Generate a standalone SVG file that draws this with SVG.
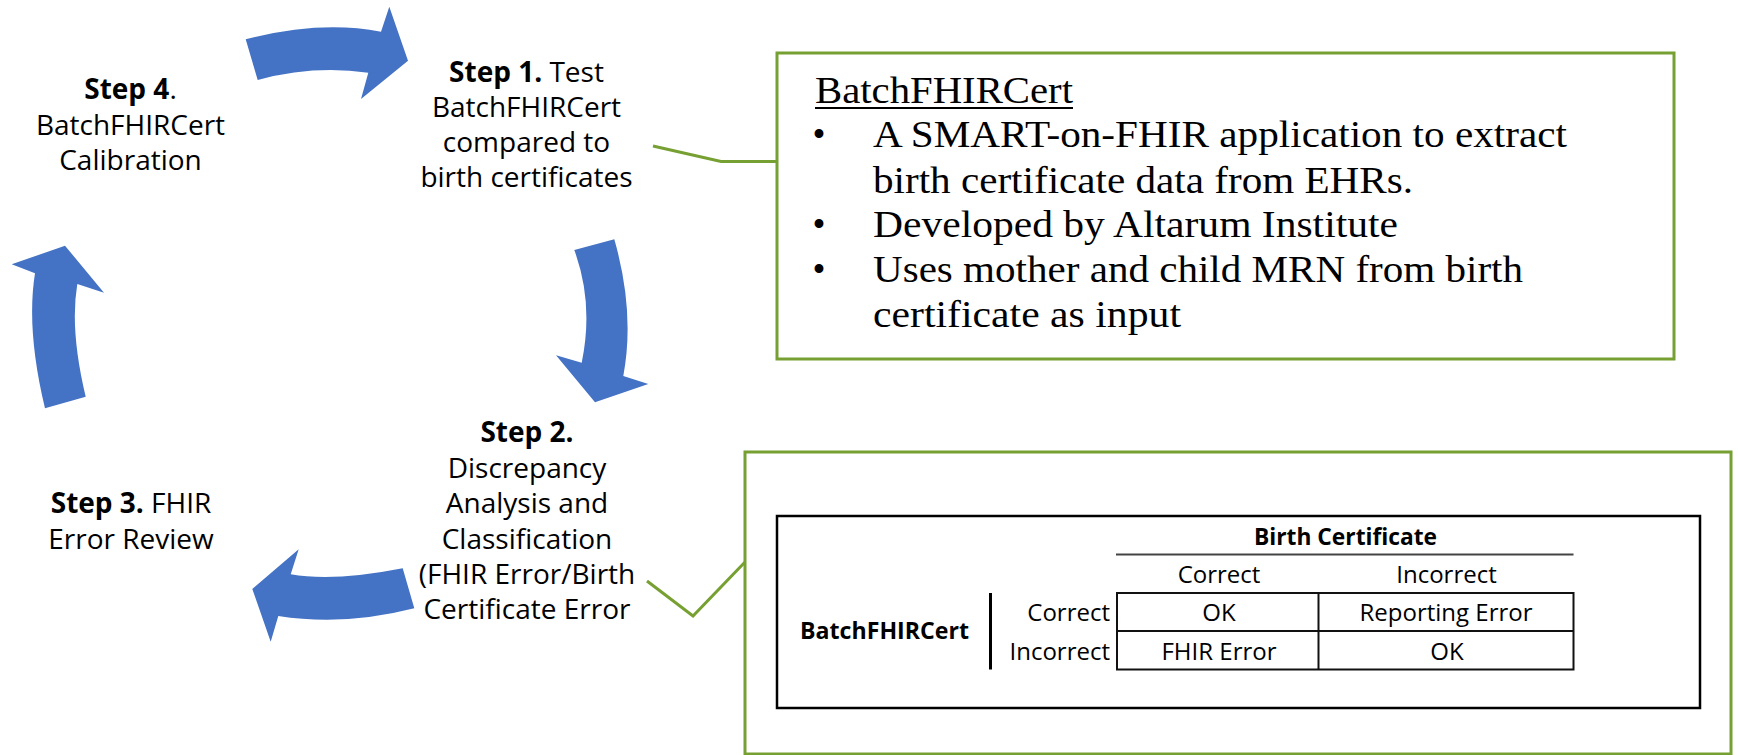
<svg xmlns="http://www.w3.org/2000/svg" width="1738" height="755" viewBox="0 0 1738 755">
<style>
.step{font-family:"Open Sans","Liberation Sans",sans-serif;font-size:28px;fill:#000;text-anchor:middle}
.b{font-weight:bold}
.arrow{fill:#4472C4}
.gbox{fill:#fff;stroke:#77A033;stroke-width:3}
.conn{fill:none;stroke:#77A033;stroke-width:3}
.ser{font-family:"Liberation Serif","Times New Roman",serif;font-size:37px;fill:#000}
.tb{font-family:"Open Sans","Liberation Sans",sans-serif;font-size:24px;fill:#000}
.mid{text-anchor:middle}
.end{text-anchor:end}
.grid{stroke:#111;stroke-width:2;fill:none}
</style>
<rect width="1738" height="755" fill="#fff"/>
<g id="cycle-arrows">
<path class="arrow" d="M245.7,39.3 Q320,20 381,31.7 L389.3,6.7 L408,60.7 L361,99 L368.3,72.7 Q313,65 257.7,80 Z"/>
<path class="arrow" d="M614.3,239.3 Q635.2,312.4 623.3,376 L648.3,384 L595,402.3 L556,355.3 L581.7,362.7 Q594,303.6 574.3,250 Z"/>
<path class="arrow" d="M402.7,568.3 Q333,582 290.7,574.3 L298.7,549.3 L252.3,589 L270.7,641.7 L278.3,616 Q343.6,626.4 414.3,608.3 Z"/>
<path class="arrow" d="M45,408.3 Q26,329.2 35,273.3 L11.7,264.3 L65,245.7 L104,292.7 L77.3,284 Q69.6,329.6 85.7,396.7 Z"/>
</g>
<g id="step4">
<text class="step" x="130.5" y="99"><tspan class="b">Step 4</tspan>.</text>
<text class="step" x="130.5" y="135">BatchFHIRCert</text>
<text class="step" x="130.5" y="169.5">Calibration</text>
</g>
<g id="step1">
<text class="step" x="526.5" y="82"><tspan class="b">Step 1.</tspan> Test</text>
<text class="step" x="526.5" y="117">BatchFHIRCert</text>
<text class="step" x="526.5" y="152">compared to</text>
<text class="step" x="526.5" y="187">birth certificates</text>
</g>
<g id="step2">
<text class="step b" x="527" y="442">Step 2.</text>
<text class="step" x="527" y="478">Discrepancy</text>
<text class="step" x="527" y="513">Analysis and</text>
<text class="step" x="527" y="548.5">Classification</text>
<text class="step" x="527" y="584">(FHIR Error/Birth</text>
<text class="step" x="527" y="618.5">Certificate Error</text>
</g>
<g id="step3">
<text class="step" x="131" y="513"><tspan class="b">Step 3.</tspan> FHIR</text>
<text class="step" x="131" y="548.5">Error Review</text>
</g>
<g id="connectors">
<polyline class="conn" points="653,146 721,161.5 777,161.5"/>
<polyline class="conn" points="647,581 693,616 746,561"/>
</g>
<g id="info-box">
<rect class="gbox" x="777" y="53" width="897" height="306"/>
<text class="ser" x="815" y="102.5" textLength="258" lengthAdjust="spacingAndGlyphs">BatchFHIRCert</text>
<line x1="815" y1="108" x2="1073" y2="108" stroke="#000" stroke-width="2"/>
<text class="ser mid" x="819" y="146.5">•</text>
<text class="ser" x="873" y="146.5" textLength="694" lengthAdjust="spacingAndGlyphs">A SMART-on-FHIR application to extract</text>
<text class="ser" x="873" y="192.5" textLength="540" lengthAdjust="spacingAndGlyphs">birth certificate data from EHRs.</text>
<text class="ser mid" x="819" y="236.5">•</text>
<text class="ser" x="873" y="236.5" textLength="525" lengthAdjust="spacingAndGlyphs">Developed by Altarum Institute</text>
<text class="ser mid" x="819" y="282">•</text>
<text class="ser" x="873" y="282" textLength="650" lengthAdjust="spacingAndGlyphs">Uses mother and child MRN from birth</text>
<text class="ser" x="873" y="327" textLength="308" lengthAdjust="spacingAndGlyphs">certificate as input</text>
</g>
<g id="table-box">
<rect class="gbox" x="745" y="452" width="986" height="302"/>
<rect x="777" y="516" width="923" height="192" fill="#fff" stroke="#000" stroke-width="2.5"/>
<text class="tb b" x="800" y="638.5" textLength="169" lengthAdjust="spacingAndGlyphs">BatchFHIRCert</text>
<line x1="990.5" y1="593" x2="990.5" y2="669.5" stroke="#000" stroke-width="3"/>
<text class="tb end" x="1110" y="621">Correct</text>
<text class="tb end" x="1110" y="659.5">Incorrect</text>
<text class="tb b mid" x="1345.5" y="545" textLength="183" lengthAdjust="spacingAndGlyphs">Birth Certificate</text>
<line x1="1116" y1="554.5" x2="1573.5" y2="554.5" stroke="#444" stroke-width="2"/>
<text class="tb mid" x="1219" y="583">Correct</text>
<text class="tb mid" x="1446.5" y="583">Incorrect</text>
<rect class="grid" x="1117" y="593" width="456.5" height="76.5"/>
<line class="grid" x1="1117" y1="631" x2="1573.5" y2="631"/>
<line class="grid" x1="1318.5" y1="593" x2="1318.5" y2="669.5"/>
<text class="tb mid" x="1219" y="621">OK</text>
<text class="tb mid" x="1446" y="621">Reporting Error</text>
<text class="tb mid" x="1219" y="659.5">FHIR Error</text>
<text class="tb mid" x="1447" y="659.5">OK</text>
</g>
</svg>
